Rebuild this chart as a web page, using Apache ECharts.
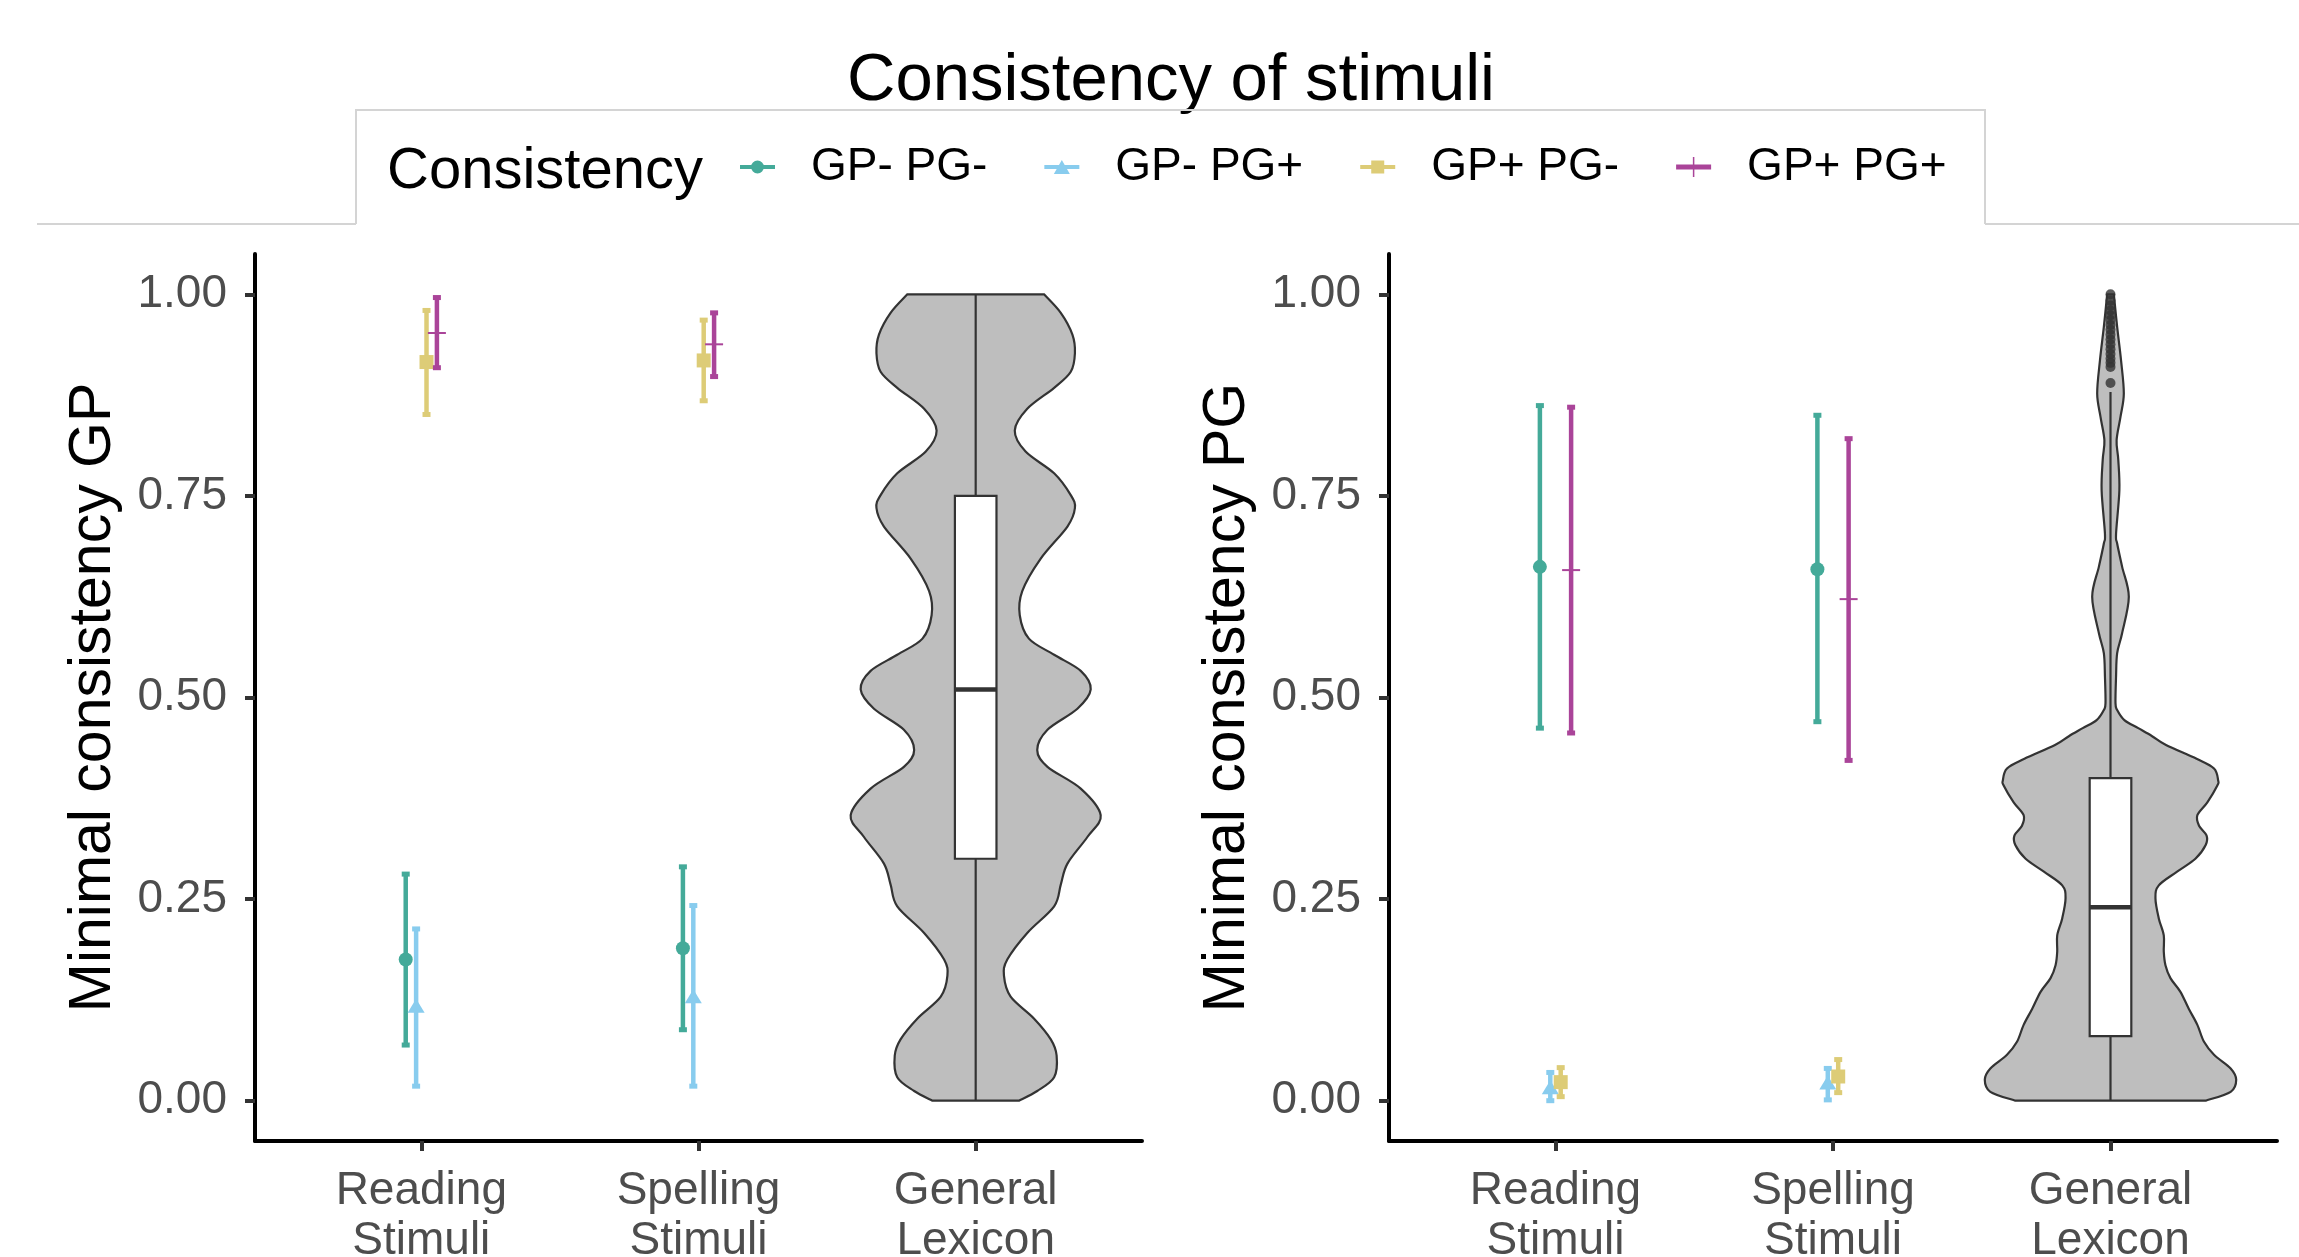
<!DOCTYPE html>
<html><head><meta charset="utf-8">
<script src="https://cdn.jsdelivr.net/npm/echarts@6/dist/echarts.min.js"></script>
<style>html,body{margin:0;padding:0;background:#fff}#c{width:2299px;height:1257px}</style>
</head><body><div id="c"></div><script>
const FONT = "'Liberation Sans', Arial, sans-serif";
const categories = ['Reading\nStimuli', 'Spelling\nStimuli', 'General\nLexicon'];
const groups = ['GP- PG-', 'GP- PG+', 'GP+ PG-', 'GP+ PG+'];
const groupColors = ['#44AA99', '#88CCEE', '#DDCC77', '#AA4499'];
const groupShapes = ['circle', 'triangle', 'square', 'cross'];
const yTicks = [0, 0.25, 0.5, 0.75, 1];

// Panel GP: per group, [Reading, Spelling]
const gpMean = [[0.175, 0.189], [0.117, 0.129], [0.916, 0.918], [0.952, 0.938]];
const gpLow  = [[0.069, 0.088], [0.018, 0.018], [0.851, 0.868], [0.909, 0.898]];
const gpHigh = [[0.281, 0.290], [0.213, 0.242], [0.980, 0.968], [0.996, 0.977]];
// Panel PG
const pgMean = [[0.662, 0.659], [0.016, 0.022], [0.023, 0.030], [0.658, 0.622]];
const pgLow  = [[0.462, 0.470], [0.000, 0.001], [0.005, 0.010], [0.456, 0.422]];
const pgHigh = [[0.862, 0.850], [0.035, 0.040], [0.041, 0.051], [0.860, 0.821]];

// General lexicon violins (value, half width in category units)
const violinGPy = [0, 0.012, 0.029, 0.056, 0.076, 0.102, 0.129, 0.155, 0.175, 0.208, 0.241, 0.268, 0.294, 0.327, 0.354, 0.387, 0.414, 0.435, 0.460, 0.486, 0.510, 0.533, 0.553, 0.573, 0.602, 0.632, 0.672, 0.712, 0.735, 0.751, 0.778, 0.805, 0.831, 0.858, 0.884, 0.904, 0.927, 0.950, 0.977, 1.0];
const violinGPw = [0.156, 0.222, 0.283, 0.292, 0.271, 0.210, 0.126, 0.102, 0.114, 0.186, 0.283, 0.307, 0.331, 0.403, 0.451, 0.379, 0.259, 0.222, 0.259, 0.367, 0.415, 0.379, 0.283, 0.192, 0.159, 0.168, 0.234, 0.331, 0.358, 0.343, 0.283, 0.180, 0.141, 0.186, 0.283, 0.343, 0.358, 0.349, 0.307, 0.2465];
const violinPGy = [0, 0.011, 0.026, 0.040, 0.057, 0.073, 0.094, 0.114, 0.135, 0.152, 0.168, 0.185, 0.205, 0.226, 0.251, 0.267, 0.284, 0.300, 0.317, 0.329, 0.341, 0.354, 0.370, 0.391, 0.397, 0.412, 0.424, 0.441, 0.452, 0.462, 0.472, 0.4845, 0.493, 0.526, 0.555, 0.580, 0.625, 0.662, 0.691, 0.703, 0.757, 0.795, 0.819, 0.848, 0.877, 0.918, 0.9595, 1.0];
const violinPGw = [0.343, 0.433, 0.453, 0.433, 0.373, 0.337, 0.313, 0.282, 0.252, 0.216, 0.198, 0.192, 0.192, 0.174, 0.162, 0.174, 0.240, 0.306, 0.343, 0.346, 0.319, 0.313, 0.349, 0.385, 0.388, 0.373, 0.310, 0.200, 0.150, 0.100, 0.050, 0.024, 0.018, 0.020, 0.024, 0.042, 0.066, 0.042, 0.024, 0.020, 0.032, 0.028, 0.022, 0.036, 0.048, 0.038, 0.024, 0.012];
// Box stats: [whiskerLow, q1, median, q3, whiskerHigh]
const boxGP = [0, 0.30, 0.51, 0.75, 1.0];
const boxPG = [0, 0.08, 0.24, 0.40, 0.879];
const outliersPG = [0.890, 0.910, 0.915, 0.920, 0.926, 0.932, 0.938, 0.944, 0.950, 0.956, 0.962, 0.968, 0.974, 0.980, 0.986, 0.992, 1.0];

const dodge = 0.15;
const offsets = groups.map((g, i) => -dodge / 2 + dodge / groups.length * (i + 0.5));

function markerEl(shape, p, color) {
  const [cx, cy] = p;
  if (shape === 'circle') return {type: 'circle', shape: {cx, cy, r: 7}, style: {fill: color}};
  if (shape === 'triangle') return {type: 'polygon', shape: {points: [[cx, cy - 7.5], [cx + 8.5, cy + 6.5], [cx - 8.5, cy + 6.5]]}, style: {fill: color}};
  if (shape === 'square') return {type: 'rect', shape: {x: cx - 7, y: cy - 7, width: 14, height: 14}, style: {fill: color}};
  return {type: 'group', children: [
    {type: 'line', shape: {x1: cx - 9, y1: cy, x2: cx + 9, y2: cy}, style: {stroke: color, lineWidth: 2}},
    {type: 'line', shape: {x1: cx, y1: cy - 9, x2: cx, y2: cy + 9}, style: {stroke: color, lineWidth: 2}}
  ]};
}

function errRender(shape, color) {
  return function (params, api) {
    const x = api.value(0), m = api.value(1), lo = api.value(2), hi = api.value(3);
    const pLo = api.coord([x, lo]), pHi = api.coord([x, hi]), pM = api.coord([x, m]);
    return {type: 'group', children: [
      {type: 'line', shape: {x1: pLo[0], y1: pLo[1], x2: pHi[0], y2: pHi[1]}, style: {stroke: color, lineWidth: 4.5}},
      {type: 'rect', shape: {x: pLo[0] - 4, y: pLo[1] - 2.5, width: 8, height: 5}, style: {fill: color}},
      {type: 'rect', shape: {x: pHi[0] - 4, y: pHi[1] - 2.5, width: 8, height: 5}, style: {fill: color}},
      markerEl(shape, pM, color)
    ]};
  };
}

function crPath(pts) {
  // Catmull-Rom spline through pts as cubic bezier segments (drawing only)
  let d = '';
  for (let i = 0; i < pts.length - 1; i++) {
    const p0 = pts[Math.max(0, i - 1)], p1 = pts[i], p2 = pts[i + 1], p3 = pts[Math.min(pts.length - 1, i + 2)];
    const c1 = [p1[0] + (p2[0] - p0[0]) / 6, p1[1] + (p2[1] - p0[1]) / 6];
    const c2 = [p2[0] - (p3[0] - p1[0]) / 6, p2[1] - (p3[1] - p1[1]) / 6];
    d += ' C' + c1[0] + ',' + c1[1] + ' ' + c2[0] + ',' + c2[1] + ' ' + p2[0] + ',' + p2[1];
  }
  return d;
}

function violinRender(vy, vw) {
  return function (params, api) {
    const x = api.value(0);
    const right = vy.map((v, i) => api.coord([x + vw[i], v]));
    const left = vy.map((v, i) => api.coord([x - vw[i], v])).reverse();
    let d = 'M' + left[left.length - 1][0] + ',' + left[left.length - 1][1];
    d += ' L' + right[0][0] + ',' + right[0][1];
    d += crPath(right);
    d += ' L' + left[0][0] + ',' + left[0][1];
    d += crPath(left);
    d += ' Z';
    return {type: 'path', shape: {pathData: d}, style: {fill: '#BEBEBE', stroke: '#333333', lineWidth: 2.2}};
  };
}

function boxRender(b) {
  return function (params, api) {
    const x = api.value(0), hw = 0.075;
    const wl = api.coord([x, b[0]]), wh = api.coord([x, b[4]]);
    const tl = api.coord([x - hw, b[3]]), br = api.coord([x + hw, b[1]]);
    const ml = api.coord([x - hw, b[2]]), mr = api.coord([x + hw, b[2]]);
    return {type: 'group', children: [
      {type: 'line', shape: {x1: wl[0], y1: wl[1], x2: wh[0], y2: wh[1]}, style: {stroke: '#333333', lineWidth: 2.2}},
      {type: 'rect', shape: {x: tl[0], y: tl[1], width: br[0] - tl[0], height: br[1] - tl[1]}, style: {fill: '#FFFFFF', stroke: '#333333', lineWidth: 2.2}},
      {type: 'line', shape: {x1: ml[0], y1: ml[1], x2: mr[0], y2: mr[1]}, style: {stroke: '#333333', lineWidth: 4.5}}
    ]};
  };
}

function xAxisDef(gi) {
  return {
    type: 'value', gridIndex: gi, min: 0.4, max: 3.6,
    axisLine: {onZero: false, lineStyle: {color: '#000', width: 4}},
    axisTick: {show: true, customValues: [1, 2, 3], length: 10, lineStyle: {color: '#333333', width: 4}},
    axisLabel: {customValues: [1, 2, 3], formatter: v => categories[Math.round(v) - 1], color: '#4D4D4D', fontSize: 46, fontFamily: FONT, lineHeight: 50, margin: 25},
    splitLine: {show: false}
  };
}
function yAxisDef(gi, name) {
  return {
    type: 'value', gridIndex: gi, min: -0.05, max: 1.05,
    name: name, nameLocation: 'middle', nameGap: 132,
    nameTextStyle: {fontSize: 59, color: '#000', fontFamily: FONT},
    axisLine: {show: true, onZero: false, lineStyle: {color: '#000', width: 4}},
    axisTick: {show: true, customValues: yTicks, length: 10, lineStyle: {color: '#333333', width: 4}},
    axisLabel: {customValues: yTicks, formatter: v => v.toFixed(2), color: '#4D4D4D', fontSize: 46, fontFamily: FONT, margin: 28},
    splitLine: {show: false}
  };
}

const series = [];
const panels = [[gpMean, gpLow, gpHigh], [pgMean, pgLow, pgHigh]];
[[violinGPy, violinGPw, boxGP], [violinPGy, violinPGw, boxPG]].forEach((vv, gi) => {
  series.push({type: 'custom', xAxisIndex: gi, yAxisIndex: gi, silent: true, renderItem: violinRender(vv[0], vv[1]), data: [[3]], z: 1});
  series.push({type: 'custom', xAxisIndex: gi, yAxisIndex: gi, silent: true, renderItem: boxRender(vv[2]), data: [[3]], z: 2});
});
series.push({type: 'scatter', xAxisIndex: 1, yAxisIndex: 1, symbol: 'circle', symbolSize: 10, itemStyle: {color: '#333333'}, data: outliersPG.map(v => [3, v]), z: 3});
panels.forEach((pan, gi) => {
  groups.forEach((g, k) => {
    series.push({
      type: 'custom', name: g, xAxisIndex: gi, yAxisIndex: gi, z: 4,
      itemStyle: {color: groupColors[k]},
      renderItem: errRender(groupShapes[k], groupColors[k]),
      data: [0, 1].map(c => [c + 1 + offsets[k], pan[0][k][c], pan[1][k][c], pan[2][k][c]])
    });
  });
});

const icons = [
  'path://M0,8 H35 V12 H0 Z M11,10 A6.5,6.5 0 1 1 24,10 A6.5,6.5 0 1 1 11,10 Z',
  'path://M0,8 H35 V12 H0 Z M17.5,3 L25.5,17 L9.5,17 Z',
  'path://M0,8 H35 V12 H0 Z M11,3.5 H24 V16.5 H11 Z',
  'path://M0,7.5 H35 V12.5 H0 Z M16.75,0 H18.25 V20 H16.75 Z'
];

const chart = echarts.init(document.getElementById('c'), null, {renderer: 'canvas'});
chart.setOption({
  animation: false,
  backgroundColor: '#FFFFFF',
  grid: [
    {left: 255, top: 254, width: 887, height: 887, containLabel: false, outerBoundsMode: 'none'},
    {left: 1389, top: 254, width: 888, height: 887, containLabel: false, outerBoundsMode: 'none'}
  ],
  xAxis: [xAxisDef(0), xAxisDef(1)],
  yAxis: [yAxisDef(0, 'Minimal consistency GP'), yAxisDef(1, 'Minimal consistency PG')],
  legend: {
    left: 740, top: 144, padding: 0, orient: 'horizontal',
    itemWidth: 35, itemHeight: 20, itemGap: 57, symbolKeepAspect: true,
    data: groups.map((g, k) => ({name: g, icon: icons[k]})),
    textStyle: {fontSize: 46, color: '#000', fontFamily: FONT, padding: [0, 0, 0, 31]}
  },
  graphic: [
    {type: 'text', x: 1171, y: 82, style: {text: 'Consistency of stimuli', fontSize: 67, fontFamily: FONT, fill: '#000', align: 'center', verticalAlign: 'middle'}},
    {type: 'text', x: 387, y: 172, style: {text: 'Consistency', fontSize: 58, fontFamily: FONT, fill: '#000', align: 'left', verticalAlign: 'middle'}},
    {type: 'polyline', shape: {points: [[356, 224], [356, 110], [1985, 110], [1985, 224]]}, style: {stroke: '#D4D4D4', lineWidth: 2, fill: null}},
    {type: 'line', shape: {x1: 37, y1: 224, x2: 356, y2: 224}, style: {stroke: '#D4D4D4', lineWidth: 2}},
    {type: 'line', shape: {x1: 1985, y1: 224, x2: 2299, y2: 224}, style: {stroke: '#D4D4D4', lineWidth: 2}}
  ],
  series: series
});
</script></body></html>
